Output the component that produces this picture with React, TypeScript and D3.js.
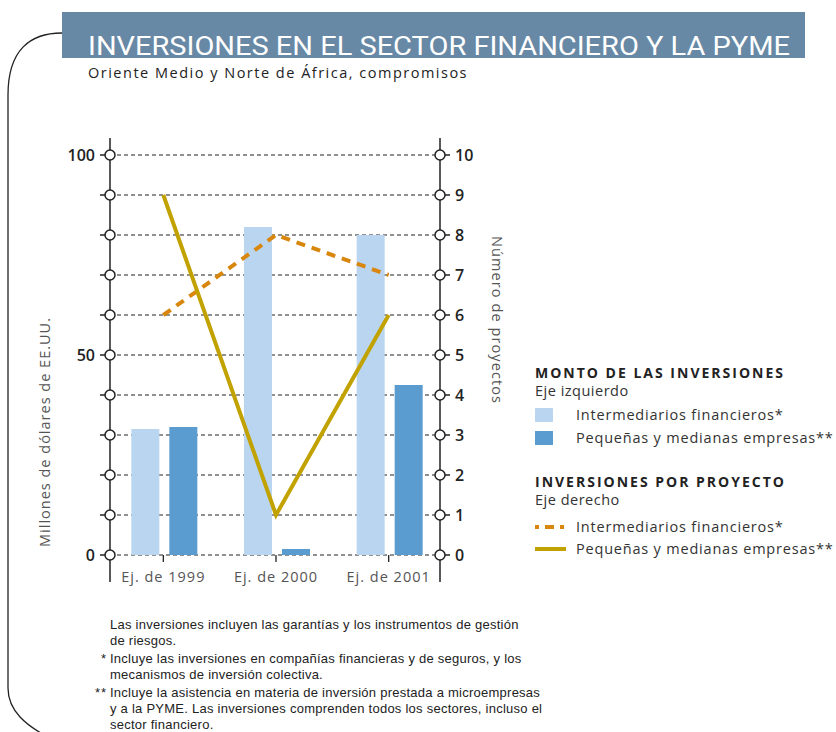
import React from "react";
import * as d3 from "d3";

const categories = ["Ej. de 1999", "Ej. de 2000", "Ej. de 2001"];
// monto de las inversiones, millones de dólares (eje izquierdo)
const montoIntermediarios = [31.5, 82, 80];
const montoPyme = [32, 1.5, 42.5];
// número de proyectos (eje derecho)
const proyectosIntermediarios = [6, 8, 7];
const proyectosPyme = [9, 1, 6];

const leftTicks = [0, 10, 20, 30, 40, 50, 60, 70, 80, 90, 100];
const leftLabels = [0, 50, 100];
const rightTicks = [0, 1, 2, 3, 4, 5, 6, 7, 8, 9, 10];

const footnotes = [
  { mark: "", lines: ["Las inversiones incluyen las garantías y los instrumentos de gestión", "de riesgos."] },
  { mark: "*", lines: ["Incluye las inversiones en compañías financieras y de seguros, y los", "mecanismos de inversión colectiva."] },
  {
    mark: "**",
    lines: [
      "Incluye la asistencia en materia de inversión prestada a microempresas",
      "y a la PYME. Las inversiones comprenden todos los sectores, incluso el",
      "sector financiero.",
    ],
  },
];

const LIGHT = "#b9d5ef";
const DARK = "#5a9bd0";
const ORANGE = "#d8860c";
const OLIVE = "#c2a200";
const BAND = "#6789a5";
const FONT = "'Open Sans', 'DejaVu Sans', sans-serif";

export default function App() {
  const xLeft = 110;
  const xRight = 440;
  const y = d3.scaleLinear().domain([0, 100]).range([555, 155]);
  const yR = d3.scaleLinear().domain([0, 10]).range([555, 155]);
  const x = d3.scaleBand().domain(categories).range([107, 445]);
  const cx = (c: string) => (x(c) as number) + x.bandwidth() / 2;
  const line = d3
    .line<number>()
    .x((_, i) => cx(categories[i]))
    .y((d) => yR(d));

  let fy = 629;
  return (
    <svg width={836} height={732} style={{ position: "absolute", left: 0, top: 0, background: "#fff" }} fontFamily={FONT}>
      {/* marco */}
      <path d="M62,33 C30,33 8,50 8,95 V688 C8,712 28,726 46,736" fill="none" stroke="#222" strokeWidth={1.3} />
      <rect x={62} y={12} width={743} height={46} fill={BAND} />
      <text
        x={88}
        y={55}
        fill="#fff"
        fontSize={26}
        fontFamily="'Liberation Sans Narrow', 'Roboto', sans-serif"
        textLength={702}
        lengthAdjust="spacingAndGlyphs"
      >
        INVERSIONES EN EL SECTOR FINANCIERO Y LA PYME
      </text>
      <text x={88} y={78} fontSize={14.5} fill="#222" letterSpacing={1.5}>
        Oriente Medio y Norte de África, compromisos
      </text>

      {/* cuadrícula */}
      {leftTicks.map((t) => (
        <line key={t} x1={xLeft} x2={xRight} y1={y(t)} y2={y(t)} stroke="#222" strokeWidth={1.2} strokeDasharray="4,3" />
      ))}

      {/* barras */}
      {categories.map((c, i) => (
        <g key={c}>
          <rect x={cx(c) - 32} width={28} y={y(montoIntermediarios[i])} height={y(0) - y(montoIntermediarios[i])} fill={LIGHT} />
          <rect x={cx(c) + 6} width={28} y={y(montoPyme[i])} height={y(0) - y(montoPyme[i])} fill={DARK} />
        </g>
      ))}

      {/* líneas */}
      <path d={line(proyectosIntermediarios) || ""} fill="none" stroke={ORANGE} strokeWidth={4} strokeDasharray="9,7" />
      <path d={line(proyectosPyme) || ""} fill="none" stroke={OLIVE} strokeWidth={4} />

      {/* ejes */}
      <line x1={xLeft} x2={xLeft} y1={138} y2={582} stroke="#222" strokeWidth={1.5} />
      <line x1={xRight} x2={xRight} y1={138} y2={582} stroke="#222" strokeWidth={1.5} />
      {leftTicks.map((t) => (
        <g key={t}>
          <line x1={xLeft - 10} x2={xLeft} y1={y(t)} y2={y(t)} stroke="#222" strokeWidth={1.5} />
          <circle cx={xLeft} cy={y(t)} r={5} fill="#fff" stroke="#222" strokeWidth={1.5} />
        </g>
      ))}
      {leftLabels.map((t) => (
        <text key={t} x={95} y={y(t) + 6} textAnchor="end" fontSize={16} fontWeight={600} fill="#222">
          {t}
        </text>
      ))}
      {rightTicks.map((t) => (
        <g key={t}>
          <line x1={xRight} x2={xRight + 10} y1={yR(t)} y2={yR(t)} stroke="#222" strokeWidth={1.5} />
          <circle cx={xRight} cy={yR(t)} r={5} fill="#fff" stroke="#222" strokeWidth={1.5} />
          <text x={455} y={yR(t) + 6} fontSize={16} fontWeight={600} fill="#222">
            {t}
          </text>
        </g>
      ))}
      {categories.map((c) => (
        <g key={c}>
          <line x1={cx(c)} x2={cx(c)} y1={555} y2={562} stroke="#222" strokeWidth={1.3} />
          <text x={cx(c)} y={582} textAnchor="middle" fontSize={14.5} fill="#555" letterSpacing={1}>
            {c}
          </text>
        </g>
      ))}
      <text transform="translate(50,432) rotate(-90)" textAnchor="middle" fontSize={14.5} fill="#555" letterSpacing={1}>
        Millones de dólares de EE.UU.
      </text>
      <text transform="translate(492,320) rotate(90)" textAnchor="middle" fontSize={14.5} fill="#555" letterSpacing={1.1}>
        Número de proyectos
      </text>

      {/* leyenda */}
      <g fill="#222">
        <text x={535} y={378} fontSize={14} fontWeight={700} letterSpacing={2}>
          MONTO DE LAS INVERSIONES
        </text>
        <text x={535} y={396} fontSize={14.5} letterSpacing={0.5} fill="#333">
          Eje izquierdo
        </text>
        <rect x={535} y={408} width={18} height={14} fill={LIGHT} />
        <text x={576} y={420} fontSize={14.5} letterSpacing={0.8} fill="#333">
          Intermediarios financieros*
        </text>
        <rect x={535} y={431} width={18} height={14} fill={DARK} />
        <text x={576} y={443} fontSize={14.5} letterSpacing={0.8} fill="#333">
          Pequeñas y medianas empresas**
        </text>
        <text x={535} y={487} fontSize={14} fontWeight={700} letterSpacing={2}>
          INVERSIONES POR PROYECTO
        </text>
        <text x={535} y={505} fontSize={14.5} letterSpacing={0.5} fill="#333">
          Eje derecho
        </text>
        <line x1={535} x2={566} y1={527} y2={527} stroke={ORANGE} strokeWidth={4} strokeDasharray="4,6,9,6" />
        <text x={576} y={532} fontSize={14.5} letterSpacing={0.8} fill="#333">
          Intermediarios financieros*
        </text>
        <line x1={535} x2={566} y1={549} y2={549} stroke={OLIVE} strokeWidth={4} />
        <text x={576} y={554} fontSize={14.5} letterSpacing={0.8} fill="#333">
          Pequeñas y medianas empresas**
        </text>
      </g>

      {/* notas */}
      <g fontFamily="'Liberation Sans', Arial, sans-serif" fontSize={13} fill="#222" letterSpacing={0.25}>
        {footnotes.map((f, i) => {
          const top = fy;
          fy += f.lines.length * 16 + 2;
          return (
            <g key={i}>
              {f.mark && (
                <text x={107} y={top} textAnchor="end" letterSpacing={1}>
                  {f.mark}
                </text>
              )}
              {f.lines.map((l, j) => (
                <text key={j} x={110} y={top + j * 16}>
                  {l}
                </text>
              ))}
            </g>
          );
        })}
      </g>
    </svg>
  );
}
